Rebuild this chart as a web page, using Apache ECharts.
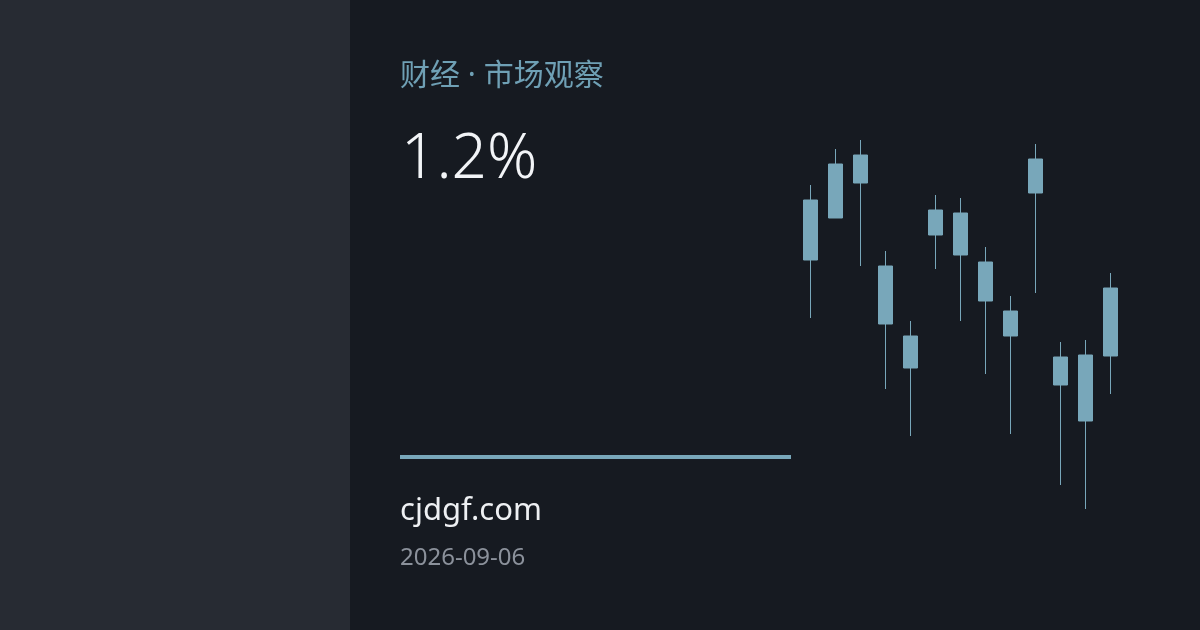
<!DOCTYPE html>
<html>
<head>
<meta charset="utf-8">
<script src="https://cdn.jsdelivr.net/npm/echarts@6/dist/echarts.min.js"></script>
<style>
  html, body { margin: 0; padding: 0; background: #161a21; }
  #chart { width: 1200px; height: 630px; }
</style>
</head>
<body>
<div id="chart"></div>
<script>
// 13 根K线，数值按图上像素估读
var days = ['1', '2', '3', '4', '5', '6', '7', '8', '9', '10', '11', '12', '13'];
var opens  = [250, 292, 327, 244, 174, 275, 297, 248, 174, 317, 153, 155, 154];
var closes = [310, 346, 355, 186, 142, 300, 255, 209, 199, 351, 125,  89, 222];
var lows   = [192, 292, 244, 121,  74, 241, 189, 136,  76, 217,  25,   1, 116];
var highs  = [325, 361, 370, 259, 189, 315, 312, 263, 214, 366, 168, 170, 237];

var kdata = days.map(function (d, i) {
    return [opens[i], closes[i], lows[i], highs[i]];
});

var candleColor = '#78a7ba';
var chart = echarts.init(document.getElementById('chart'));

var option = {
    backgroundColor: '#161a21',
    animation: false,
    grid: {
        left: 798,
        right: 77,
        top: 140,
        height: 370
    },
    xAxis: {
        type: 'category',
        data: days,
        show: false,
        boundaryGap: true
    },
    yAxis: {
        type: 'value',
        min: 0,
        max: 370,
        show: false,
        splitLine: { show: false }
    },
    graphic: [
        {
            type: 'rect',
            left: 0, top: 0,
            shape: { width: 350, height: 630 },
            style: { fill: '#272b33' },
            z: -10
        },
        {
            type: 'text',
            x: 400, y: 76,
            style: {
                text: '财经 · 市场观察',
                fill: '#6fa0b5',
                font: '30px "Noto Sans", "Noto Sans CJK SC", sans-serif',
                verticalAlign: 'middle'
            }
        },
        {
            type: 'text',
            x: 401, y: 160,
            style: {
                text: '1.2%',
                fill: '#f2f4f7',
                font: '300 62px "Noto Sans", "Open Sans", sans-serif',
                verticalAlign: 'middle'
            }
        },
        {
            type: 'rect',
            x: 400, y: 455,
            shape: { width: 391, height: 4 },
            style: { fill: '#78a7ba' }
        },
        {
            type: 'text',
            x: 400, y: 511,
            style: {
                text: 'cjdgf.com',
                fill: '#eef0f3',
                font: '31px "Noto Sans", "Open Sans", sans-serif',
                verticalAlign: 'middle'
            }
        },
        {
            type: 'text',
            x: 400, y: 558,
            style: {
                text: '2026-09-06',
                fill: '#8b919b',
                font: '24px "Noto Sans", "Open Sans", sans-serif',
                verticalAlign: 'middle'
            }
        }
    ],
    series: [{
        type: 'candlestick',
        data: kdata,
        barWidth: 15,
        itemStyle: {
            color: candleColor,
            color0: candleColor,
            borderColor: candleColor,
            borderColor0: candleColor,
            borderWidth: 1
        }
    }]
};

chart.setOption(option);
window.onresize = function () {
    chart.resize();
};
</script>
</body>
</html>
